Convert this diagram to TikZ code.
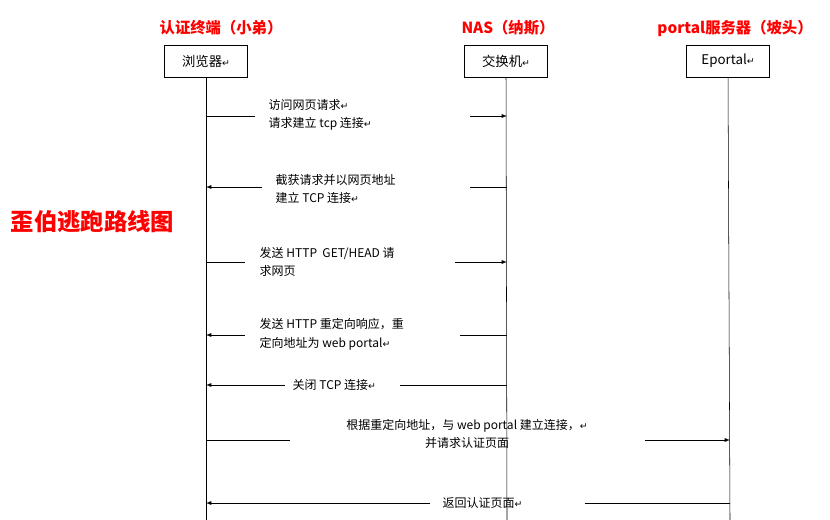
\documentclass[tikz,border=0pt]{standalone}
\usepackage{fontspec}
\setmainfont{Noto Sans CJK SC}
\newfontfamily\djv{DejaVu Sans}
\newcommand{\rt}{{\djv\scriptsize ↵}}
\begin{document}
\begin{tikzpicture}[x=0.75pt,y=-0.75pt,
  box/.style={draw,minimum width=62pt,minimum height=24pt,inner sep=0pt,font=\fontsize{10}{12}\selectfont},
  ttl/.style={text=red,font=\fontsize{11.5}{13}\selectfont\bfseries},
  msg/.style={font=\fontsize{9}{14}\selectfont,align=left,anchor=west},
  ar/.style={-latex,thin}]
\useasboundingbox (0,0) rectangle (830,520);
\node[box] (b1) at (206,61) {浏览器\rt};
\node[box] (b2) at (506,61) {交换机\rt};
\node[box] (b3) at (728,61) {Eportal\rt};
\node[ttl] (t1) at (221,28) {认证终端（小弟）};
\node[ttl] (t2) at (508,28) {NAS（纳斯）};
\node[ttl] (t3) at (735,28) {portal服务器（坡头）};
\node[text=red,font=\fontsize{17.5}{20}\selectfont\bfseries,anchor=west] (side) at (6,222) {歪伯逃跑路线图};
\coordinate (e1) at (206,520); \coordinate (e2) at (507,520); \coordinate (e3) at (730,520);
\draw (b1.south) -- (e1); \draw (b2.south) -- (e2); \draw (b3.south) -- (e3);
% msg 1
\coordinate (a1) at (206,116); \coordinate (a2) at (255,116); \coordinate (a3) at (470,116); \coordinate (a4) at (507,116);
\draw (a1)--(a2); \draw[ar] (a3)--(a4);
\node[msg] (m1) at (264,115) {访问网页请求\rt\\请求建立 tcp 连接\rt};
% msg 2
\coordinate (c1) at (262,187); \coordinate (c2) at (206,187); \coordinate (c3) at (507,187); \coordinate (c4) at (470,187);
\draw[ar] (c1)--(c2); \draw (c3)--(c4);
\node[msg] (m2) at (271,189) {截获请求并以网页地址\\建立 TCP 连接\rt};
% msg 3
\coordinate (d1) at (206,262); \coordinate (d2) at (245,262); \coordinate (d3) at (455,262); \coordinate (d4) at (507,262);
\draw (d1)--(d2); \draw[ar] (d3)--(d4);
\node[msg] (m3) at (255,262) {发送 HTTP\ \ GET/HEAD 请\\求网页};
% msg 4
\coordinate (f1) at (245,335); \coordinate (f2) at (206,335); \coordinate (f3) at (507,335); \coordinate (f4) at (460,335);
\draw[ar] (f1)--(f2); \draw (f3)--(f4);
\node[msg] (m4) at (255,334) {发送 HTTP 重定向响应，重\\定向地址为 web portal\rt};
% msg 5
\coordinate (g1) at (285,385); \coordinate (g2) at (206,385); \coordinate (g3) at (507,385); \coordinate (g4) at (400,385);
\draw[ar] (g1)--(g2); \draw (g3)--(g4);
\node[msg] (m5) at (288,385) {关闭 TCP 连接\rt};
% msg 6
\coordinate (h1) at (206,440); \coordinate (h2) at (290,440); \coordinate (h3) at (645,440); \coordinate (h4) at (730,440);
\draw (h1)--(h2); \draw[ar] (h3)--(h4);
\node[msg,align=center,anchor=center] (m6) at (467,434) {根据重定向地址，与 web portal 建立连接，\rt\\并请求认证页面};
% msg 7
\coordinate (k1) at (430,503); \coordinate (k2) at (206,503); \coordinate (k3) at (730,503); \coordinate (k4) at (585,503);
\draw[ar] (k1)--(k2); \draw (k3)--(k4);
\node[msg] (m7) at (438,503) {返回认证页面\rt};
\end{tikzpicture}
\end{document}
